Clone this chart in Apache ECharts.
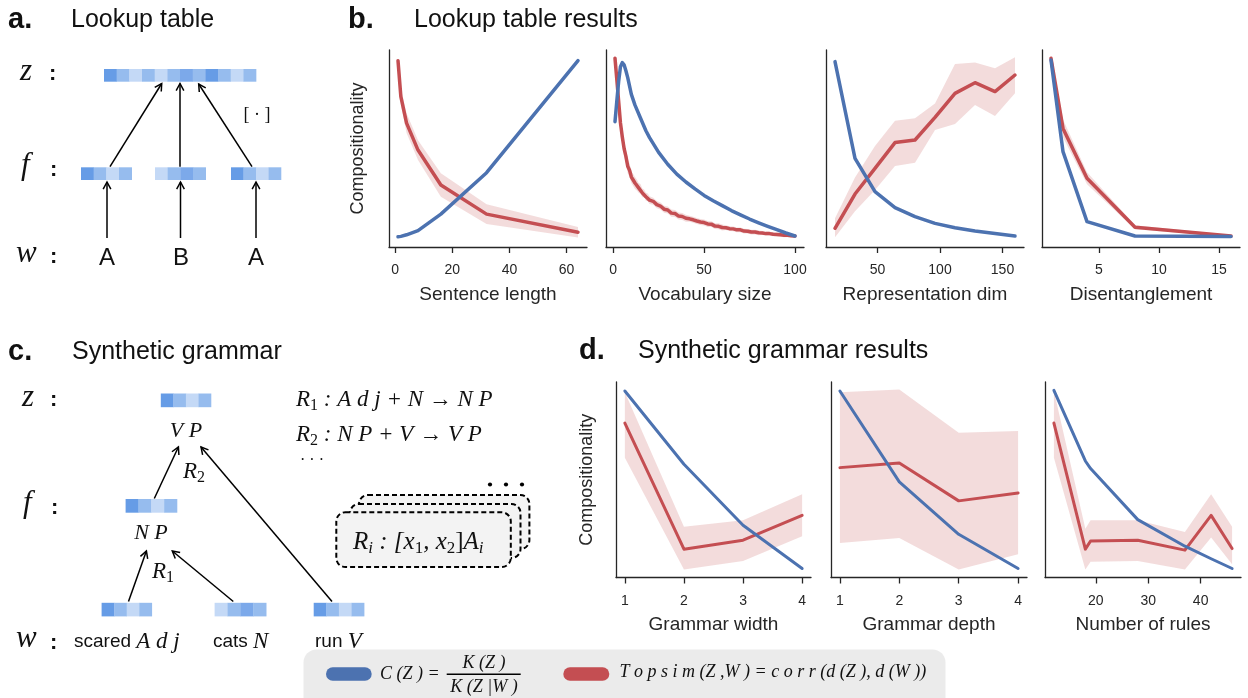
<!DOCTYPE html>
<html><head><meta charset="utf-8">
<script src="https://cdn.jsdelivr.net/npm/echarts@6/dist/echarts.min.js"></script>
<style>html,body{margin:0;padding:0;background:#fff}#c{width:1248px;height:698px}</style>
</head><body><div id="c"></div>
<script>
// ---------- data (values normalised 0..1 within each panel) ----------
const sentLenX = [1, 2, 4, 8, 16, 32, 64];
const sentLenBlue = [0.052, 0.054, 0.062, 0.083, 0.167, 0.377, 0.946];
const sentLenRed = [0.946, 0.763, 0.629, 0.492, 0.315, 0.167, 0.075];
const sentLenRedErr = [0.01, 0.04, 0.05, 0.05, 0.06, 0.05, 0.027];

const vocabBlueX = [1,2,3,4,5,6,7,8,10,12,15,18,20,25,30,35,40,45,50,55,60,65,70,75,80,85,90,95,100];
const vocabBlue = [0.636,0.74,0.84,0.915,0.936,0.925,0.895,0.86,0.775,0.72,0.655,0.59,0.555,0.48,0.42,0.37,0.33,0.295,0.262,0.235,0.21,0.185,0.163,0.142,0.123,0.105,0.088,0.071,0.056];
const vocabRedX = [1,2,3,4,5,6,7,8,9,10,11,12,13,14,15,16,17,18,19,20,22,24,26,28,30,32,34,36,38,40,42,44,46,48,50,52,54,56,58,60,62,64,66,68,70,72,74,76,78,80,82,84,86,88,90,92,94,96,98,100];
const vocabRed = [0.958,0.85,0.74,0.63,0.56,0.50,0.46,0.41,0.39,0.355,0.34,0.325,0.315,0.30,0.295,0.275,0.272,0.255,0.252,0.238,0.232,0.215,0.208,0.192,0.188,0.172,0.17,0.157,0.155,0.146,0.143,0.138,0.132,0.127,0.124,0.117,0.116,0.106,0.105,0.099,0.098,0.093,0.092,0.087,0.087,0.081,0.08,0.076,0.076,0.072,0.071,0.068,0.068,0.065,0.064,0.062,0.06,0.059,0.057,0.056];
const vocabRedErr = [0.005,0.02,0.03,0.035,0.035,0.035,0.035,0.035,0.035,0.03,0.03,0.03,0.028,0.025,0.025,0.022,0.02,0.02,0.02,0.02,0.018,0.018,0.018,0.018,0.018,0.018,0.018,0.018,0.018,0.018,0.015,0.015,0.015,0.015,0.015,0.015,0.015,0.015,0.015,0.015,0.012,0.012,0.012,0.012,0.012,0.012,0.012,0.012,0.012,0.012,0.01,0.01,0.01,0.01,0.01,0.01,0.01,0.01,0.01,0.01];

const repDimX = [16, 32, 48, 64, 80, 96, 112, 128, 144, 160];
const repDimBlue = [0.941, 0.45, 0.281, 0.2, 0.154, 0.12, 0.098, 0.081, 0.069, 0.056];
const repDimRed = [0.095, 0.269, 0.399, 0.53, 0.543, 0.658, 0.78, 0.834, 0.789, 0.873];
const repDimRedLo = [0.049, 0.181, 0.289, 0.411, 0.428, 0.594, 0.624, 0.721, 0.665, 0.78];
const repDimRedHi = [0.146, 0.353, 0.513, 0.641, 0.653, 0.729, 0.929, 0.936, 0.907, 0.963];

const disX = [1, 2, 4, 8, 16];
const disBlue = [0.949, 0.484, 0.129, 0.056, 0.053];
const disRed = [0.958, 0.602, 0.349, 0.1, 0.056];
const disRedErr = [0.005, 0.045, 0.03, 0.01, 0.005];

const widthX = [1, 2, 3, 4];
const widthBlue = [0.954, 0.579, 0.267, 0.046];
const widthRed = [0.79, 0.145, 0.191, 0.318];
const widthRedLo = [0.613, 0.041, 0.085, 0.211];
const widthRedHi = [0.948, 0.259, 0.293, 0.426];

const depthX = [1, 2, 3, 4];
const depthBlue = [0.954, 0.489, 0.221, 0.046];
const depthRed = [0.562, 0.586, 0.392, 0.432];
const depthRedLo = [0.177, 0.202, 0.041, 0.119];
const depthRedHi = [0.948, 0.962, 0.741, 0.749];

const rulesX = [12, 18, 19, 28, 37, 42, 46];
const rulesBlue = [0.957, 0.596, 0.557, 0.296, 0.16, 0.096, 0.046];
const rulesRed = [0.79, 0.145, 0.187, 0.191, 0.14, 0.318, 0.148];
const rulesRedLo = [0.613, 0.041, 0.08, 0.085, 0.041, 0.204, 0.068];
const rulesRedHi = [0.954, 0.25, 0.293, 0.293, 0.233, 0.426, 0.259];

const ticksB = [[0,20,40,60],[0,50,100],[50,100,150],[5,10,15]];
const ticksD = [[1,2,3,4],[1,2,3,4],[20,30,40]];
const namesB = ['Sentence length','Vocabulary size','Representation dim','Disentanglement'];
const namesD = ['Grammar width','Grammar depth','Number of rules'];

// ---------- helpers ----------
const BLUE = '#4c72b0', RED = '#c44e52', INK = '#262626';
const SANS = '"Liberation Sans", Arial, sans-serif';
const SERIF = '"Liberation Serif", "DejaVu Serif", serif';
const zip = (xs, ys) => xs.map((x, k) => [x, ys[k]]);

const grids = [
  {left:389, top:50, width:198, height:197},
  {left:606, top:50, width:198, height:197},
  {left:826, top:50, width:198, height:197},
  {left:1042, top:50, width:198, height:197},
  {left:616, top:382, width:195, height:195.5},
  {left:831, top:382, width:196, height:195.5},
  {left:1045, top:382, width:196, height:195.5}
];
const xr = [[-2.15,67.15],[-3.95,104.95],[8.8,167.2],[0.25,16.75],[0.85,4.15],[0.85,4.15],[10.3,47.7]];
const ticks = ticksB.concat(ticksD);
const names = namesB.concat(namesD);

const xAxes = grids.map((g, i) => ({
  type:'value', gridIndex:i, min:xr[i][0], max:xr[i][1],
  name:names[i], nameLocation:'middle', nameGap:38,
  nameTextStyle:{fontSize:19, color:INK, fontFamily:SANS},
  axisLine:{show:true, onZero:false, lineStyle:{color:INK, width:1.3}},
  axisTick:{show:true, length:6, customValues:ticks[i], lineStyle:{color:INK, width:1.3}},
  axisLabel:{show:true, customValues:ticks[i], fontSize:14, color:INK, margin:i < 4 ? 16 : 17, fontFamily:SANS},
  splitLine:{show:false}
}));
const yAxes = grids.map((g, i) => ({
  type:'value', gridIndex:i, min:0, max:1,
  name:(i === 0 || i === 4) ? 'Compositionality' : '', nameLocation:'middle', nameGap: i === 0 ? 22 : 20,
  nameTextStyle:{fontSize:18, color:INK, fontFamily:SANS},
  axisLine:{show:true, onZero:false, lineStyle:{color:INK, width:1.3}},
  axisTick:{show:false}, axisLabel:{show:false}, splitLine:{show:false}
}));

const series = [];
function line(i, xs, ys, color, w, z) {
  series.push({type:'line', xAxisIndex:i, yAxisIndex:i, data:zip(xs, ys), showSymbol:false,
    symbol:'none', lineStyle:{color, width:w, cap:'round', join:'round'}, itemStyle:{color}, z, silent:true});
}
function band(i, xs, lo, hi) {
  const rows = xs.map((x, k) => [x, lo[k], hi[k]]);
  series.push({type:'custom', xAxisIndex:i, yAxisIndex:i, data:rows, encode:{x:0, y:[1,2]}, z:1, silent:true,
    renderItem(params, api) {
      if (params.dataIndex !== 0) return null;
      const pts = [];
      rows.forEach(r => pts.push(api.coord([r[0], r[2]])));
      for (let k = rows.length - 1; k >= 0; k--) pts.push(api.coord([rows[k][0], rows[k][1]]));
      return {type:'polygon', shape:{points:pts}, style:{fill:'rgba(196,78,82,0.2)'}};
    }});
}
const lo = (v, e) => v.map((y, k) => y - e[k]);
const hi = (v, e) => v.map((y, k) => y + e[k]);

band(0, sentLenX, lo(sentLenRed, sentLenRedErr), hi(sentLenRed, sentLenRedErr));
line(0, sentLenX, sentLenRed, RED, 3.5, 2); line(0, sentLenX, sentLenBlue, BLUE, 3.5, 3);
band(1, vocabRedX, lo(vocabRed, vocabRedErr), hi(vocabRed, vocabRedErr));
line(1, vocabRedX, vocabRed, RED, 3.5, 2); line(1, vocabBlueX, vocabBlue, BLUE, 3.5, 3);
band(2, repDimX, repDimRedLo, repDimRedHi);
line(2, repDimX, repDimRed, RED, 3.5, 2); line(2, repDimX, repDimBlue, BLUE, 3.5, 3);
band(3, disX, lo(disRed, disRedErr), hi(disRed, disRedErr));
line(3, disX, disRed, RED, 3.5, 2); line(3, disX, disBlue, BLUE, 3.5, 3);
band(4, widthX, widthRedLo, widthRedHi);
line(4, widthX, widthRed, RED, 3, 2); line(4, widthX, widthBlue, BLUE, 3, 3);
band(5, depthX, depthRedLo, depthRedHi);
line(5, depthX, depthRed, RED, 3, 2); line(5, depthX, depthBlue, BLUE, 3, 3);
band(6, rulesX, rulesRedLo, rulesRedHi);
line(6, rulesX, rulesRed, RED, 3, 2); line(6, rulesX, rulesBlue, BLUE, 3, 3);

// ---------- diagram graphics ----------
const G = [];
const mctx = document.createElement('canvas').getContext('2d');
function txt(x, y, t, font, align, fill) {
  G.push({type:'text', x, y, z:100, silent:true, style:{text:t, font, fill:fill || '#111',
    textAlign:align || 'left', align:align || 'left', textVerticalAlign:'middle', verticalAlign:'middle'}});
}
function seq(x, y, parts, align) {
  let total = 0;
  const ms = parts.map(p => {
    const font = (p.i ? 'italic ' : '') + (p.b ? 'bold ' : '') + p.s + 'px ' + (p.f || SERIF);
    mctx.font = font; const w = mctx.measureText(p.t).width + (p.gap || 0);
    total += w; return {font, w};
  });
  let cx = align === 'center' ? x - total / 2 : x;
  parts.forEach((p, k) => { txt(cx, y + (p.dy || 0), p.t, ms[k].font); cx += ms[k].w; });
}
function rect(x, y, w, h, fill, extra) {
  G.push(Object.assign({type:'rect', z:90, silent:true, shape:{x, y, width:w, height:h}, style:{fill}}, extra || {}));
}
function cells(x, y, w, h, colors) { colors.forEach((c, k) => rect(x + k * w, y, w + 0.3, h, c)); }
function arrow(x1, y1, x2, y2) {
  G.push({type:'line', z:95, silent:true, shape:{x1, y1, x2, y2}, style:{stroke:'#000', lineWidth:1.5}});
  const a = Math.atan2(y2 - y1, x2 - x1), L = 8, sp = 0.5;
  G.push({type:'polyline', z:95, silent:true, shape:{points:[[x2 - L * Math.cos(a - sp), y2 - L * Math.sin(a - sp)], [x2, y2], [x2 - L * Math.cos(a + sp), y2 - L * Math.sin(a + sp)]]},
    style:{stroke:'#000', lineWidth:1.5, fill:null}});
}
const D = '#669ce6', M = '#96bcee', Lc = '#c4d9f6', MD = '#7ca9ea';

// titles
txt(8, 20, 'a.', 'bold 29px ' + SANS); txt(71, 20, 'Lookup table', '25px ' + SANS);
txt(348, 20, 'b.', 'bold 29px ' + SANS); txt(414, 20, 'Lookup table results', '25px ' + SANS);
txt(8, 352, 'c.', 'bold 29px ' + SANS); txt(72, 352, 'Synthetic grammar', '25px ' + SANS);
txt(579, 351, 'd.', 'bold 29px ' + SANS); txt(638, 351, 'Synthetic grammar results', '25px ' + SANS);

// panel a
txt(20, 72, 'z', 'italic 31px ' + SERIF); txt(49, 74, ':', 'bold 22px ' + SANS);
txt(21, 166, 'f', 'italic 31px ' + SERIF); txt(50, 170, ':', 'bold 22px ' + SANS);
txt(16, 254, 'w', 'italic 31px ' + SERIF); txt(50, 257, ':', 'bold 22px ' + SANS);
cells(104, 69, 12.67, 12.7, [D, M, Lc, M, Lc, M, MD, M, D, M, Lc, M]);
cells(81, 167.3, 12.67, 12.7, [D, M, Lc, M]);
cells(155, 167.3, 12.67, 12.7, [Lc, M, MD, M]);
cells(231, 167.3, 12.5, 12.7, [D, M, Lc, M]);
txt(107, 258, 'A', '24px ' + SANS, 'center'); txt(181, 258, 'B', '24px ' + SANS, 'center'); txt(256, 258, 'A', '24px ' + SANS, 'center');
arrow(107, 238, 107, 182); arrow(180.5, 238, 180.5, 182); arrow(256, 238, 256, 182);
arrow(110, 166.7, 161.7, 83.5); arrow(180, 166.7, 180, 83.5); arrow(252, 166.7, 198.7, 84);
txt(257, 115, '[ · ]', '18px ' + SERIF, 'center');

// panel c
txt(22, 398, 'z', 'italic 31px ' + SERIF); txt(50, 400, ':', 'bold 22px ' + SANS);
txt(23, 504, 'f', 'italic 31px ' + SERIF); txt(51, 508, ':', 'bold 22px ' + SANS);
txt(16, 639, 'w', 'italic 31px ' + SERIF); txt(50, 643, ':', 'bold 22px ' + SANS);
cells(160.8, 393.5, 12.55, 13.7, [D, M, Lc, M]);
cells(125.6, 499, 12.85, 13.7, [D, M, Lc, M]);
cells(101.6, 602.8, 12.55, 13.6, [D, M, Lc, M]);
cells(214.6, 602.8, 12.9, 13.6, [Lc, M, MD, M]);
cells(313.7, 602.8, 12.6, 13.6, [D, M, Lc, M]);
txt(186, 431, 'V P', 'italic 22px ' + SERIF, 'center');
txt(151, 533, 'N P', 'italic 22px ' + SERIF, 'center');
arrow(128.5, 601.5, 146.4, 551); arrow(233.3, 601.5, 172.3, 551);
arrow(332, 601.5, 201, 447); arrow(154.3, 498.5, 178.4, 447);
seq(183, 472, [{t:'R', s:23, i:true}, {t:'2', s:16, dy:6}]);
seq(152, 572, [{t:'R', s:23, i:true}, {t:'1', s:16, dy:6}]);
seq(74, 642, [{t:'scared ', s:19, f:SANS}, {t:'A d j', s:23, i:true}]);
seq(213, 642, [{t:'cats ', s:19, f:SANS}, {t:'N', s:23, i:true}]);
seq(315, 642, [{t:'run ', s:19, f:SANS}, {t:'V', s:23, i:true}]);
seq(296, 400, [{t:'R', s:23, i:true}, {t:'1', s:16, dy:6}, {t:' : A d j + N → N P', s:23, i:true}]);
seq(296, 435, [{t:'R', s:23, i:true}, {t:'2', s:16, dy:6}, {t:' : N P + V → V P', s:23, i:true}]);
txt(300, 461, '· · ·', '16px ' + SERIF);
const dash = {stroke:'#000', lineWidth:2, lineDash:[5, 3]};
rect(359, 495, 170.4, 54, '#f3f3f3', {shape:{x:359, y:495, width:170.4, height:54, r:9}, style:Object.assign({fill:'#f3f3f3'}, dash)});
rect(350, 504, 170.5, 54, '#f3f3f3', {shape:{x:350, y:504, width:170.5, height:54, r:9}, style:Object.assign({fill:'#f3f3f3'}, dash)});
rect(336.3, 512.3, 174.5, 54.7, '#f3f3f3', {shape:{x:336.3, y:512.3, width:174.5, height:54.7, r:9}, style:Object.assign({fill:'#f3f3f3'}, dash)});
[490, 506, 522].forEach(x => G.push({type:'circle', z:95, silent:true, shape:{cx:x, cy:484.5, r:2.1}, style:{fill:'#000'}}));
seq(353, 542, [{t:'R', s:25, i:true}, {t:'i', s:17, i:true, dy:7}, {t:' : [', s:25, i:true}, {t:'x', s:25, i:true}, {t:'1', s:17, dy:7},
  {t:', ', s:25, i:true}, {t:'x', s:25, i:true}, {t:'2', s:17, dy:7}, {t:']', s:25}, {t:'A', s:25, i:true}, {t:'i', s:17, i:true, dy:7}]);

// legend
G.push({type:'rect', z:80, silent:true, shape:{x:303.5, y:649.5, width:642, height:62, r:13}, style:{fill:'#ebebeb'}});
G.push({type:'rect', z:85, silent:true, shape:{x:326, y:667.3, width:45.7, height:13.4, r:6.7}, style:{fill:BLUE}});
G.push({type:'rect', z:85, silent:true, shape:{x:563.3, y:667.3, width:46, height:13.4, r:6.7}, style:{fill:RED}});
txt(380, 674.5, 'C (Z ) =', 'italic 18px ' + SERIF);
txt(484, 663.5, 'K (Z )', 'italic 18px ' + SERIF, 'center');
G.push({type:'line', z:95, silent:true, shape:{x1:446.7, y1:674.3, x2:520.7, y2:674.3}, style:{stroke:'#000', lineWidth:1.4}});
txt(484, 687.5, 'K (Z |W )', 'italic 18px ' + SERIF, 'center');
txt(619.5, 672.5, 'T o p s i m (Z ,W ) = c o r r (d (Z ), d (W ))', 'italic 18px ' + SERIF);

const chart = echarts.init(document.getElementById('c'), null, {renderer:'canvas'});
chart.setOption({
  animation:false, backgroundColor:'#fff',
  grid:grids.map(g => Object.assign({containLabel:false}, g)),
  xAxis:xAxes, yAxis:yAxes, series, graphic:{elements:G}
});
</script></body></html>
